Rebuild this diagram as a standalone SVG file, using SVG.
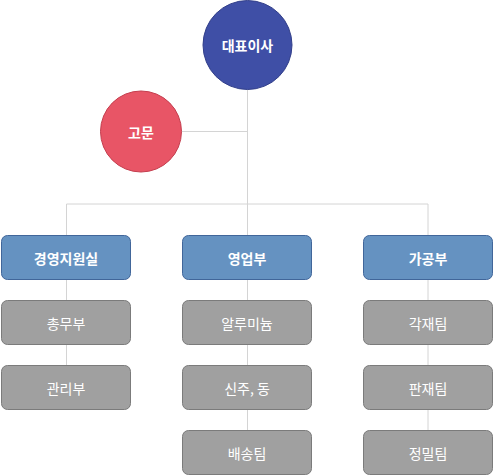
<svg xmlns="http://www.w3.org/2000/svg" width="494" height="475" viewBox="0 0 494 475">
<style>
.ln{stroke:#d4d4d4;stroke-width:1;fill:none}
.blue{fill:#6592c1;stroke:#41669a;stroke-width:1}
.gray{fill:#a0a0a0;stroke:#7b7b7b;stroke-width:1}
text{font-family:"Noto Sans CJK KR","Noto Sans",sans-serif;font-size:14px;fill:#fff;text-anchor:middle;dominant-baseline:central}
.b{font-weight:bold}
</style>
<rect width="494" height="475" fill="#fff"/>
<g id="connectors">
<path class="ln" d="M247.5 90V204M182 131.5H247.5M66.5 204H428M66.5 204V365M247.5 204V430M428 204V430"/>
</g>
<g id="ceo"><circle cx="247.5" cy="45" r="44.5" fill="#3f4fa6" stroke="#323f8a"/><text x="247.5" y="45" class="b">대표이사</text></g>
<g id="advisor"><circle cx="141" cy="131.5" r="40.5" fill="#e85566" stroke="#c43e4e"/><text x="141" y="131.5" class="b">고문</text></g>
<g id="mgmt"><rect class="blue" x="1.5" y="235.5" width="129" height="44" rx="6"/><text x="66" y="257.5" class="b">경영지원실</text></g>
<g id="sales"><rect class="blue" x="182.5" y="235.5" width="129" height="44" rx="6"/><text x="247" y="257.5" class="b">영업부</text></g>
<g id="proc"><rect class="blue" x="363.5" y="235.5" width="129" height="44" rx="6"/><text x="428" y="257.5" class="b">가공부</text></g>
<g id="general"><rect class="gray" x="1.5" y="300.5" width="129" height="44" rx="6"/><text x="66" y="322.5">총무부</text></g>
<g id="admin"><rect class="gray" x="1.5" y="365.5" width="129" height="44" rx="6"/><text x="66" y="387.5">관리부</text></g>
<g id="alu"><rect class="gray" x="182.5" y="300.5" width="129" height="44" rx="6"/><text x="247" y="322.5">알루미늄</text></g>
<g id="brass"><rect class="gray" x="182.5" y="365.5" width="129" height="44" rx="6"/><text x="247" y="387.5">신주, 동</text></g>
<g id="delivery"><rect class="gray" x="182.5" y="430.5" width="129" height="44" rx="6"/><text x="247" y="452.5">배송팀</text></g>
<g id="cut"><rect class="gray" x="363.5" y="300.5" width="129" height="44" rx="6"/><text x="428" y="322.5">각재팀</text></g>
<g id="plate"><rect class="gray" x="363.5" y="365.5" width="129" height="44" rx="6"/><text x="428" y="387.5">판재팀</text></g>
<g id="precision"><rect class="gray" x="363.5" y="430.5" width="129" height="44" rx="6"/><text x="428" y="452.5">정밀팀</text></g>
</svg>
